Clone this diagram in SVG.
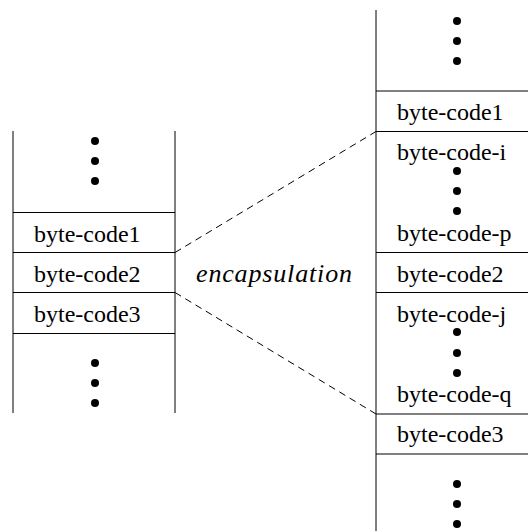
<svg xmlns="http://www.w3.org/2000/svg" width="528" height="531" viewBox="0 0 528 531">
<style>
.ln{stroke:#000;stroke-width:1;fill:none}
.dash{stroke:#000;stroke-width:1;fill:none;stroke-dasharray:7,5}
</style>
<rect width="528" height="531" fill="#fff"/>
<g id="left-stack">
<line class="ln" x1="13" y1="131" x2="13" y2="413"/>
<line class="ln" x1="175" y1="131" x2="175" y2="413"/>
<line class="ln" x1="13" y1="212.5" x2="175" y2="212.5"/>
<line class="ln" x1="13" y1="252.5" x2="175" y2="252.5"/>
<line class="ln" x1="13" y1="292.5" x2="175" y2="292.5"/>
<line class="ln" x1="13" y1="333.5" x2="175" y2="333.5"/>
<circle cx="95" cy="141" r="4"/>
<circle cx="95" cy="161" r="4"/>
<circle cx="95" cy="181" r="4"/>
<text x="34" y="241.5" font-family="Liberation Serif" font-size="24">byte-code1</text>
<text x="34" y="281.5" font-family="Liberation Serif" font-size="24">byte-code2</text>
<text x="34" y="321.5" font-family="Liberation Serif" font-size="24">byte-code3</text>
<circle cx="95" cy="363" r="4"/>
<circle cx="95" cy="383" r="4"/>
<circle cx="95" cy="403" r="4"/>
</g>
<g id="right-stack">
<line class="ln" x1="376" y1="10" x2="376" y2="531"/>
<line class="ln" x1="376" y1="91" x2="528" y2="91"/>
<line class="ln" x1="376" y1="131.5" x2="528" y2="131.5"/>
<line class="ln" x1="376" y1="252.5" x2="528" y2="252.5"/>
<line class="ln" x1="376" y1="292.5" x2="528" y2="292.5"/>
<line class="ln" x1="376" y1="414" x2="528" y2="414"/>
<line class="ln" x1="376" y1="454" x2="528" y2="454"/>
<circle cx="457" cy="21" r="4"/>
<circle cx="457" cy="41" r="4"/>
<circle cx="457" cy="61" r="4"/>
<text x="397" y="120" font-family="Liberation Serif" font-size="24">byte-code1</text>
<text x="397" y="160" font-family="Liberation Serif" font-size="24">byte-code-i</text>
<circle cx="457" cy="171" r="4"/>
<circle cx="457" cy="191" r="4"/>
<circle cx="457" cy="211" r="4"/>
<text x="397" y="241" font-family="Liberation Serif" font-size="24">byte-code-p</text>
<text x="397" y="281.5" font-family="Liberation Serif" font-size="24">byte-code2</text>
<text x="397" y="321.5" font-family="Liberation Serif" font-size="24">byte-code-j</text>
<circle cx="457" cy="332" r="4"/>
<circle cx="457" cy="353" r="4"/>
<circle cx="457" cy="373" r="4"/>
<text x="397" y="402" font-family="Liberation Serif" font-size="24">byte-code-q</text>
<text x="397" y="442" font-family="Liberation Serif" font-size="24">byte-code3</text>
<circle cx="457" cy="484" r="4"/>
<circle cx="457" cy="504" r="4"/>
<circle cx="457" cy="524" r="4"/>
</g>
<g id="connectors">
<line class="dash" x1="175" y1="252.5" x2="376" y2="131.5"/>
<line class="dash" x1="175" y1="292.5" x2="376" y2="414"/>
</g>
<g id="label">
<text x="196" y="282" font-family="Liberation Serif" font-size="26" font-style="italic" textLength="156" lengthAdjust="spacing">encapsulation</text>
</g>
</svg>
